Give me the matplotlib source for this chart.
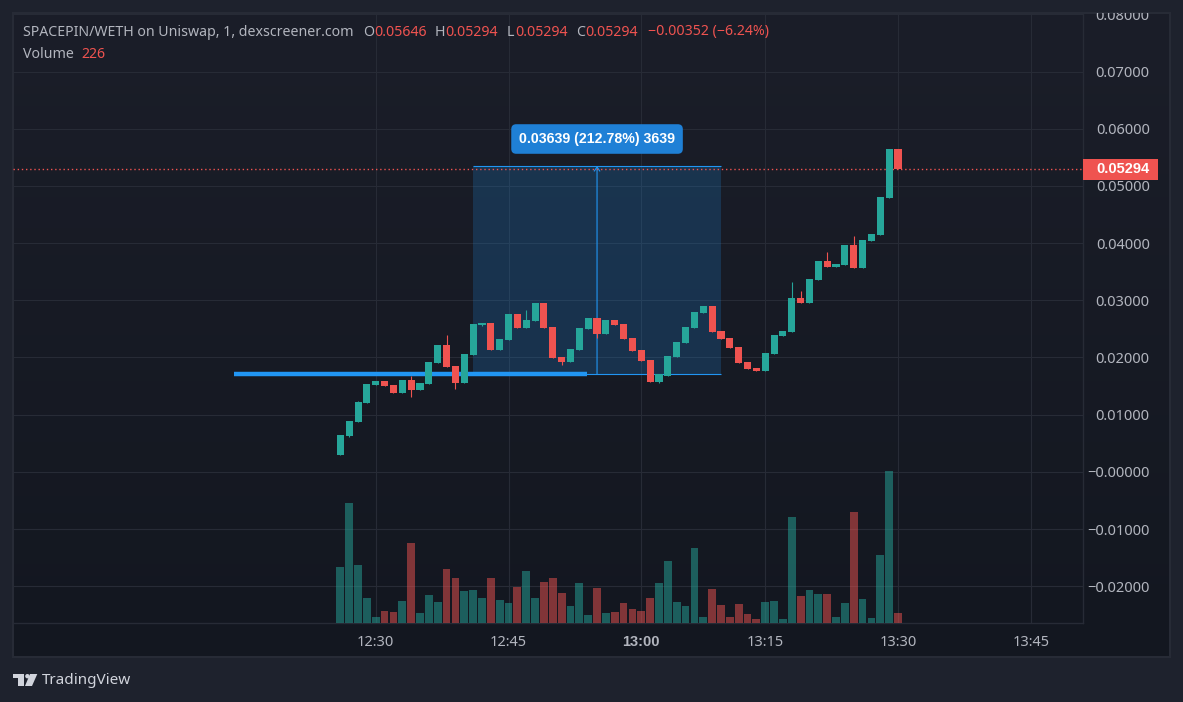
import matplotlib
matplotlib.use('Agg')
import matplotlib.pyplot as plt
import numpy as np
from matplotlib.colors import LinearSegmentedColormap
from matplotlib.patches import Rectangle, Polygon, Ellipse
from matplotlib.transforms import Bbox

plt.rcParams['font.family'] = ['Noto Sans', 'DejaVu Sans']

W, H = 1183, 702

# ohlc, one candle per bar
opens = [.00295, .00628, .00872, .01205, .01519, .01589, .01519, .01379, .01607, .01432,
         .01537, .01904, .02219, .01851, .01554, .02044, .02568, .02603, .02131, .02306,
         .02761, .02516, .02638, .02953, .02533, .02009, .01921, .02131, .02498, .02691,
         .02411, .02656, .02586, .02341, .02131, .01956, .01572, .01677, .02009, .02253,
         .02516, .02778, .02900, .02463, .02341, .02184, .01921, .01817, .01764, .02061,
         .02376, .02446, .03040, .02953, .03355, .03687, .03582, .03617, .03967, .03565,
         .04037, .04142, .04788, .05646]
closes = [.00645, .00890, .01227, .01537, .01589, .01502, .01379, .01607, .01432, .01554,
          .01921, .02219, .01834, .01554, .02061, .02586, .02603, .02131, .02323, .02761,
          .02516, .02656, .02953, .02516, .01991, .01921, .02149, .02516, .02691, .02411,
          .02656, .02568, .02323, .02114, .01939, .01572, .01712, .02026, .02271, .02533,
          .02795, .02900, .02446, .02323, .02166, .01904, .01799, .01764, .02079, .02393,
          .02463, .03040, .02953, .03372, .03687, .03582, .03635, .03967, .03565, .04054,
          .04159, .04806, .05646, .05294]
highs = [.00645, .00890, .01240, .01537, .01589, .01589, .01519, .01607, .01677, .01554,
         .01921, .02219, .02393, .01851, .02061, .02586, .02603, .02603, .02323, .02761,
         .02761, .02830, .02953, .02953, .02533, .02009, .02149, .02516, .02691, .02691,
         .02656, .02656, .02586, .02341, .02131, .01956, .01712, .02026, .02271, .02533,
         .02795, .02900, .02900, .02463, .02341, .02184, .01921, .01817, .02079, .02393,
         .02463, .03320, .03163, .03372, .03687, .03844, .03635, .03967, .04124, .04054,
         .04159, .04806, .05646, .05646]
lows = [.00295, .00610, .00872, .01205, .01519, .01502, .01379, .01379, .01309, .01432,
        .01537, .01904, .01834, .01449, .01554, .02044, .02551, .02131, .02131, .02306,
        .02516, .02516, .02638, .02516, .01991, .01869, .01921, .02131, .02498, .02341,
        .02411, .02568, .02323, .02114, .01939, .01572, .01555, .01677, .02009, .02253,
        .02516, .02778, .02446, .02323, .02166, .01904, .01799, .01764, .01764, .02061,
        .02376, .02446, .02953, .02953, .03355, .03582, .03582, .03617, .03565, .03565,
        .04037, .04142, .04788, .05294]
volumes = [1239, 2647, 1283, 557, 139, 271, 249, 491, 1767, 227, 623, 469, 1195, 997, 711, 733,
           557, 997, 513, 447, 799, 1151, 557, 909, 997, 667, 381, 887, 183, 777, 227, 249,
           447, 315, 271, 557, 887, 1371, 469, 381, 1657, 139, 755, 403, 139, 425, 205, 95,
           469, 491, 95, 2339, 601, 733, 645, 645, 139, 447, 2449, 535, 117, 1503, 3351, 226]

price_ticks = [0.08, 0.07, 0.06, 0.05, 0.04, 0.03, 0.02, 0.01, 0.0, -0.01, -0.02]
price_labels = ['0.08000', '0.07000', '0.06000', '0.05000', '0.04000', '0.03000', '0.02000',
                '0.01000', '\u22120.00000', '\u22120.01000', '\u22120.02000']
time_ticks = [4, 19, 34, 48, 63, 78]
time_labels = ['12:30', '12:45', '13:00', '13:15', '13:30', '13:45']

last_price = 0.05294
range_low = 0.01710
range_high = 0.05349
range_left, range_right = 15, 43
range_mid = 29
range_text = '0.03639 (212.78%) 3639'
level_price = 0.01717
level_left, level_right = -12, 27.9

UP = '#26a69a'
DOWN = '#ef5350'
BLUE = '#2196f3'
GRID = '#272b36'
TEXT = '#b2b5be'
OUTER = '#1e222d'
BOLD = 'Liberation Sans'


def px(x, y):
    return x / W, 1 - y / H


fig = plt.figure(figsize=(W / 100, H / 100), dpi=100, facecolor=OUTER)

# panel behind everything, slight vertical gradient
x0, y0 = px(13, 657)
bg = fig.add_axes([x0, y0, (1170 - 13) / W, (657 - 13) / H], zorder=0)
cm = LinearSegmentedColormap.from_list('panel', ['#1b1e29', '#131720'])
bg.imshow(np.linspace(0, 1, 256).reshape(-1, 1), aspect='auto', cmap=cm)
bg.set_xticks([])
bg.set_yticks([])
for s in bg.spines.values():
    s.set_color(GRID)
    s.set_linewidth(1.5)

x0, y0 = px(13, 623)
pos = [x0, y0, (1083 - 13) / W, (623 - 13) / H]
ax = fig.add_axes(pos, zorder=1)
ax.patch.set_visible(False)
ax.set_xlim(-36.98, 83.9)
ax.set_ylim(-0.02642, 0.08023)

# volume pane on same x, twinx moves the price ticks so do this first
ax_vol = ax.twinx()
ax_vol.set_zorder(2)
ax_vol.set_ylim(0, 13420)
ax_vol.axis('off')

idx = np.arange(len(opens))
o = np.array(opens)
c = np.array(closes)
colors = [UP if b >= a else DOWN for a, b in zip(opens, closes)]

ax.set_axisbelow(True)
ax.grid(True, color=GRID, lw=0.8)
ax.yaxis.tick_right()
ax.set_yticks(price_ticks)
ax.set_yticklabels(price_labels)
ax.set_xticks(time_ticks)
ax.set_xticklabels(time_labels)
ax.tick_params(axis='y', length=0, pad=48, labelsize=10.5, labelcolor=TEXT)
ax.tick_params(axis='x', length=0, pad=9, labelsize=10.5, labelcolor=TEXT)
for lab in ax.get_yticklabels():
    lab.set_ha('right')
ax.get_xticklabels()[2].set_fontfamily(BOLD)
ax.get_xticklabels()[2].set_fontweight('bold')
for name, s in ax.spines.items():
    s.set_color(GRID)
    s.set_linewidth(1)
    s.set_visible(name in ('right', 'bottom'))

# top label is cut by the panel edge
top_box = Bbox.from_extents(0, 0, W, H - 13)
ax.get_yticklabels()[0].set_clip_box(top_box)
ax.get_yticklabels()[0].set_clip_on(True)

# measure tool
ax.add_patch(Rectangle((range_left, range_low), range_right - range_left, range_high - range_low,
                       fc=BLUE, alpha=0.2, lw=0, zorder=1.5))
ax.hlines([range_low, range_high], range_left, range_right, color=BLUE, lw=0.8, zorder=1.6)
ax.annotate('', xy=(range_mid, range_high), xytext=(range_mid, range_low),
            arrowprops=dict(arrowstyle='->,head_length=0.3,head_width=0.2', color=BLUE, lw=0.8,
                            shrinkA=0, shrinkB=0), zorder=1.6)
ax.text(range_mid, range_high + 0.00471, range_text, color='white', fontsize=10.2, fontweight='bold',
        family=BOLD, ha='center', va='center', zorder=5,
        bbox=dict(boxstyle='round,pad=0.55,rounding_size=0.35', fc='#1f80d6', lw=0))

ax.plot([level_left, level_right], [level_price, level_price], color=BLUE, lw=3.2,
        solid_capstyle='butt', zorder=2)

# candles
ax.vlines(idx, lows, highs, colors=colors, lw=0.8, zorder=3)
ax.bar(idx, np.abs(c - o), bottom=np.minimum(o, c), width=0.8, color=colors, lw=0, zorder=3)

# last price line and tag
ax.axhline(last_price, color=DOWN, lw=1, ls=(0, (1, 2)), zorder=2.5)
trans = ax.get_yaxis_transform()
ax.add_patch(Rectangle((1, last_price - 0.00185), 75 / 1070, 0.0037, transform=trans, fc=DOWN, lw=0,
                       clip_on=False, zorder=4))
ax.text(1 + 67 / 1070, last_price, '0.05294', transform=trans, color='white', fontsize=10.5,
        fontweight='bold', family=BOLD, ha='right', va='center', zorder=5)

ax_vol.bar(idx, volumes, width=0.88, color=colors, alpha=0.5, lw=0)

# header text, placed by pixel
header = [
    (23, 32, 'SPACEPIN/WETH on Uniswap, 1, dexscreener.com', TEXT),
    (363, 32, 'O', TEXT), (374, 32, '0.05646', DOWN),
    (435, 32, 'H', TEXT), (445, 32, '0.05294', DOWN),
    (507, 32, 'L', TEXT), (515, 32, '0.05294', DOWN),
    (576, 32, 'C', TEXT), (585, 32, '0.05294', DOWN),
    (648, 32, '\u22120.00352 (\u22126.24%)', DOWN),
    (23, 54, 'Volume', TEXT), (81, 54, '226', DOWN),
]
for hx, hy, t, col in header:
    fx, fy = px(hx, hy)
    fig.text(fx, fy, t, color=col, fontsize=10.2, ha='left', va='center', zorder=5)

# logo
LOGO = '#d1d4dc'
fig.add_artist(Polygon([px(12.7, 674), px(24, 674), px(24, 686), px(18.3, 686), px(18.3, 678.3), px(12.7, 678.3)],
                       closed=True, fc=LOGO, lw=0, transform=fig.transFigure))
fig.add_artist(Polygon([px(30, 674), px(37.3, 674), px(32, 686), px(25, 686)],
                       closed=True, fc=LOGO, lw=0, transform=fig.transFigure))
fig.add_artist(Ellipse(px(27.4, 676.2), 4.4 / W, 4.4 / H, fc=LOGO, lw=0, transform=fig.transFigure))
fx, fy = px(42, 680)
fig.text(fx, fy, 'TradingView', color=LOGO, fontsize=11, ha='left', va='center')

plt.savefig('out.png', dpi=100, facecolor=OUTER)
plt.close()
